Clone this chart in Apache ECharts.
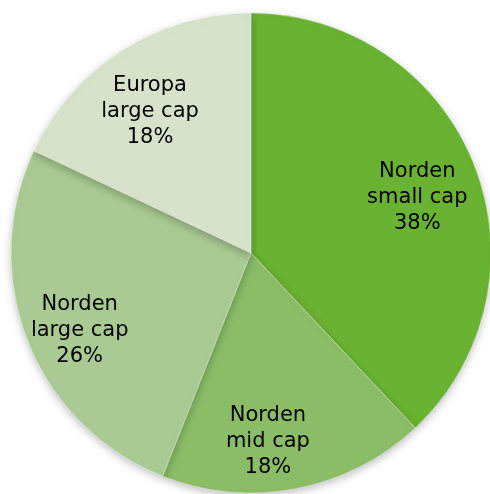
<!DOCTYPE html>
<html>
<head>
<meta charset="utf-8">
<script src="https://cdn.jsdelivr.net/npm/echarts@6/dist/echarts.min.js"></script>
<style>
  html, body { margin: 0; padding: 0; background: #fff; }
  #chart { width: 490px; height: 494px; }
</style>
</head>
<body>
<div id="chart"></div>
<script>
var names = ['Norden\nsmall cap', 'Norden\nmid cap', 'Norden\nlarge cap', 'Europa\nlarge cap'];
var values = [38, 18, 26, 18];
var colors = ['#6ab232', '#8bbd67', '#a9ca92', '#d6e3ca'];
// horizontal nudges so the labels sit where Excel put them
var labelPads = [[0, 4, 0, 0], [0, 34, 0, 0], [0, 6, 0, 0], [0, 8, 0, 0]];

var myChart = echarts.init(document.getElementById('chart'));

var center = [251, 253];

var sliceData = names.map(function (n, i) {
    return { name: n, value: values[i], itemStyle: { color: colors[i] } };
});
var labelData = names.map(function (n, i) {
    return { name: n, value: values[i], label: { padding: labelPads[i] } };
});

var option = {
    animation: false,
    series: [
        {
            type: 'pie',
            center: center,
            radius: [0, 240],
            startAngle: 90,
            clockwise: true,
            silent: true,
            itemStyle: {
                borderColor: 'rgba(255,255,255,0.35)',
                borderWidth: 1,
                shadowBlur: 8,
                shadowOffsetY: 3,
                shadowColor: 'rgba(0,0,0,0.25)'
            },
            label: { show: false },
            labelLine: { show: false },
            data: sliceData
        },
        {
            // invisible ring, only carries the labels
            type: 'pie',
            center: [center[0], center[1] + 11],
            radius: [116, 240],
            startAngle: 90,
            clockwise: true,
            silent: true,
            itemStyle: { color: 'rgba(0,0,0,0)' },
            label: {
                show: true,
                position: 'inside',
                formatter: '{b}\n{d}%',
                fontFamily: 'DejaVu Sans',
                fontSize: 21,
                lineHeight: 26,
                color: '#000'
            },
            labelLine: { show: false },
            data: labelData
        }
    ]
};

myChart.setOption(option);
</script>
</body>
</html>
